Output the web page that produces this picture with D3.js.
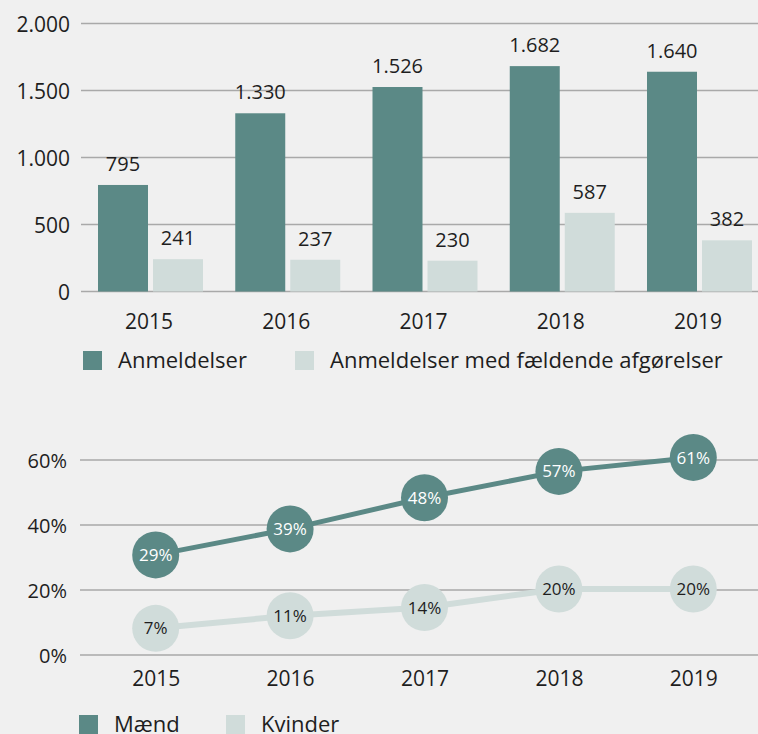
<!DOCTYPE html>
<html>
<head>
<meta charset="utf-8">
<script src="https://cdn.jsdelivr.net/npm/d3@7"></script>
<style>
  html, body { margin: 0; padding: 0; background: #f0f0f0; }
  svg { display: block; }
  text { font-family: "Open Sans", "Noto Sans", sans-serif; fill: #1e1e1e; }
</style>
</head>
<body>
<script>
// ---- Data ----
const years = ["2015", "2016", "2017", "2018", "2019"];
const anmeldelser = [795, 1330, 1526, 1682, 1640];
const faeldende = [241, 237, 230, 587, 382];
const barTicks = [0, 500, 1000, 1500, 2000];
const barSeriesNames = ["Anmeldelser", "Anmeldelser med fældende afgørelser"];

const maend = [30.8, 38.8, 48.4, 56.5, 60.8];
const maendLabels = ["29%", "39%", "48%", "57%", "61%"];
const kvinder = [8.2, 12.1, 14.6, 20.3, 20.3];
const kvinderLabels = ["7%", "11%", "14%", "20%", "20%"];
const pctTicks = [0, 20, 40, 60];
const lineSeriesNames = ["Mænd", "Kvinder"];

const DARK = "#5b8986";
const LIGHT = "#d0dcda";
const GRID = "#a9a9a9";

const W = 758, H = 734;
const svg = d3.select("body").append("svg").attr("width", W).attr("height", H);
svg.append("rect").attr("width", W).attr("height", H).attr("fill", "#f0f0f0");

const fmt = d3.formatLocale({decimal: ",", thousands: ".", grouping: [3], currency: ["", " kr."]}).format(",d");

// ---- Top bar chart ----
const y1 = d3.scaleLinear().domain([0, 2000]).range([291.5, 23.5]);
const x1 = d3.scalePoint().domain(years).range([150.5, 699.5]);
const barW = 50, gap = 5;

const topG = svg.append("g");
const yAxis1 = d3.axisLeft(y1).tickValues(barTicks).tickFormat(fmt).tickSize(0).tickPadding(11);
const ya1 = topG.append("g").attr("transform", "translate(81,0)").call(yAxis1);
ya1.select(".domain").remove();
ya1.selectAll("text").attr("font-size", 21).attr("dy", "0.36em").style("font-family", "'Open Sans', sans-serif").attr("fill", "#1e1e1e");

topG.selectAll("line.grid").data(barTicks).join("line")
  .attr("class", "grid")
  .attr("x1", 81).attr("x2", W)
  .attr("y1", d => y1(d)).attr("y2", d => y1(d))
  .attr("stroke", GRID).attr("stroke-width", 1.5);

const groups = years.map((yr, i) => ({yr, a: anmeldelser[i], f: faeldende[i]}));
topG.selectAll("rect.a").data(groups).join("rect")
  .attr("class", "a")
  .attr("x", d => x1(d.yr) - gap / 2 - barW)
  .attr("y", d => y1(d.a)).attr("width", barW)
  .attr("height", d => y1(0) - y1(d.a)).attr("fill", DARK);
topG.selectAll("rect.f").data(groups).join("rect")
  .attr("class", "f")
  .attr("x", d => x1(d.yr) + gap / 2)
  .attr("y", d => y1(d.f)).attr("width", barW)
  .attr("height", d => y1(0) - y1(d.f)).attr("fill", LIGHT);

topG.selectAll("text.la").data(groups).join("text")
  .attr("class", "la")
  .attr("x", d => x1(d.yr) - gap / 2 - barW / 2)
  .attr("y", d => y1(d.a) - 14)
  .attr("text-anchor", "middle").attr("font-size", 20)
  .text(d => fmt(d.a));
topG.selectAll("text.lf").data(groups).join("text")
  .attr("class", "lf")
  .attr("x", d => x1(d.yr) + gap / 2 + barW / 2)
  .attr("y", d => y1(d.f) - 14)
  .attr("text-anchor", "middle").attr("font-size", 20)
  .text(d => fmt(d.f));

const xAxis1 = d3.axisBottom(x1).tickSize(0).tickPadding(0);
const xa1 = topG.append("g").attr("transform", "translate(-2,0)").call(xAxis1);
xa1.select(".domain").remove();
xa1.selectAll("text").attr("y", 329).attr("dy", 0).attr("font-size", 21)
  .style("font-family", "'Open Sans', sans-serif").attr("fill", "#1e1e1e");

// legend top
const leg1X = [83, 295];
barSeriesNames.forEach((n, i) => {
  topG.append("rect").attr("x", leg1X[i]).attr("y", 351).attr("width", 19).attr("height", 19)
    .attr("fill", i === 0 ? DARK : LIGHT);
  topG.append("text").attr("x", leg1X[i] + 35).attr("y", 368).attr("font-size", 22).text(n);
});

// ---- Bottom line chart ----
const y2 = d3.scaleLinear().domain([0, 60]).range([655, 460]);
const x2 = d3.scalePoint().domain(years).range([155.7, 693.3]);
const botG = svg.append("g");

const yAxis2 = d3.axisLeft(y2).tickValues(pctTicks).tickFormat(d => d + "%").tickSize(0).tickPadding(13);
const ya2 = botG.append("g").attr("transform", "translate(80,0)").call(yAxis2);
ya2.select(".domain").remove();
ya2.selectAll("text").attr("font-size", 20).attr("dy", "0.36em").style("font-family", "'Open Sans', sans-serif").attr("fill", "#1e1e1e");

botG.selectAll("line.grid").data(pctTicks).join("line")
  .attr("class", "grid")
  .attr("x1", 80).attr("x2", W)
  .attr("y1", d => y2(d)).attr("y2", d => y2(d))
  .attr("stroke", GRID).attr("stroke-width", 1.5);

const line = d3.line().x((d, i) => x2(years[i])).y(d => y2(d));

const series = [
  {vals: kvinder, labels: kvinderLabels, color: LIGHT, textColor: "#1e1e1e", w: 6},
  {vals: maend, labels: maendLabels, color: DARK, textColor: "#ffffff", w: 5}
];
series.forEach(s => {
  const g = botG.append("g");
  g.append("path").datum(s.vals).attr("d", line)
    .attr("fill", "none").attr("stroke", s.color).attr("stroke-width", s.w);
  g.selectAll("circle").data(s.vals).join("circle")
    .attr("cx", (d, i) => x2(years[i])).attr("cy", d => y2(d)).attr("r", 23.5)
    .attr("fill", s.color);
  g.selectAll("text").data(s.vals).join("text")
    .attr("x", (d, i) => x2(years[i])).attr("y", d => y2(d)).attr("dy", "0.36em")
    .attr("text-anchor", "middle").attr("font-size", 17)
    .style("fill", s.textColor)
    .text((d, i) => s.labels[i]);
});

const xAxis2 = d3.axisBottom(x2).tickSize(0).tickPadding(0);
const xa2 = botG.append("g").call(xAxis2);
xa2.select(".domain").remove();
xa2.selectAll("text").attr("y", 686).attr("dy", 0).attr("font-size", 21)
  .style("font-family", "'Open Sans', sans-serif").attr("fill", "#1e1e1e");

const leg2X = [79, 226];
lineSeriesNames.forEach((n, i) => {
  botG.append("rect").attr("x", leg2X[i]).attr("y", 715).attr("width", 19).attr("height", 19)
    .attr("fill", i === 0 ? DARK : LIGHT);
  botG.append("text").attr("x", leg2X[i] + 35).attr("y", 732).attr("font-size", 22).text(n);
});
</script>
</body>
</html>
